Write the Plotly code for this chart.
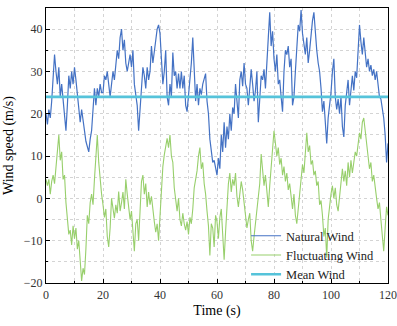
import numpy as np
import plotly.graph_objects as go

# time axis: 0 .. 120 s, sampled every 0.5 s
time_s = np.arange(0, 120.25, 0.5)

natural_wind = [
    20, 17.5, 21, 19, 23, 29, 34, 30, 27, 31,
    24, 27, 23, 21, 16, 22, 29, 26, 30, 27,
    31, 28, 25, 22, 18, 21, 19, 16, 13.5, 12.5,
    11, 14, 16, 21, 26, 22, 26, 24, 27, 25,
    25, 29, 28, 30, 26, 24, 27, 30, 28, 32,
    35, 33, 38, 40, 35, 37.5, 32, 30, 32, 34,
    31, 35, 27, 24, 22, 16, 21, 24, 31, 29,
    26, 31, 28, 30, 36, 32, 35, 37.5, 40, 41,
    39, 33, 27, 30, 35, 24, 22, 27, 24, 34.5,
    29, 30, 26, 29.5, 26, 30, 26, 29, 22, 20.5,
    24.4, 27.6, 32, 38, 30, 23, 27, 22, 26, 24.5,
    27, 28, 29.5, 23, 20, 14, 11, 8.5, 9, 7,
    5.5, 9.5, 7, 15, 11, 18, 12, 17, 14, 20,
    16, 21.5, 20, 27, 23, 19, 28, 30, 26.5, 32,
    27, 26, 22, 26, 30.5, 27, 23, 25.5, 30, 18,
    25, 29, 28, 30.5, 26, 34, 38, 44, 36, 39.5,
    33, 30, 34, 27, 28, 24, 20.5, 30, 35, 34,
    36, 31, 33, 22, 24, 30, 37, 41, 39.5, 44.5,
    39, 37, 34, 38, 32, 35, 39.5, 42, 44, 39,
    35, 32, 30, 26, 20.5, 23, 17, 13, 19, 22,
    25, 30, 33, 24, 21, 23.5, 20, 24, 17, 14.5,
    22, 25, 28, 22, 26, 29, 25.5, 30, 28.5, 35,
    41, 37, 34, 38, 35, 31, 33, 30, 31.5, 29,
    30.5, 28, 30, 26, 24, 23.5, 21, 19, 15, 8.5,
    13,
]

fluctuating_wind = [
    4.5, 3, 4.5, 1, 4, 5.5, 3.5, 7, 11.5, 15,
    9, 11, 4.5, 5.5, -1, -5.5, -8.5, -7.5, -11, -6.5,
    -9.5, -7, -12, -10, -15, -19.5, -16.5, -18, -12, -4,
    -6, -1, 1, -1.5, 4.5, 9.5, 15, 8.5, 4, 1,
    -1.5, -4.5, -2.5, -9, -11.5, -7, 0, -2, -4.7, -1.5,
    -3.5, 1.6, -3, -1, 1.5, -2.5, 4.5, 1, -1.5, -5,
    -3, -8, -12.5, -6, -5, -10, -3, 4, 5.5, 1,
    3.5, -2, 1.5, -1.5, 0.5, -3, -5.5, -8, -6, -10,
    -4, 4, 7.5, 10.3, 12.5, 14.2, 12, 15, 10, 8.5,
    2.5, -0.8, -3, 0, -5, -6.5, -3.5, -6, -7.5, -5.5,
    -8.5, -4.5, -6, -2.5, 2.5, 4.5, 6.5, 10, 12, 7,
    8.5, 3.5, 1, -3, -6.5, -13.5, -6, -7, -11.5, -4,
    -5.5, -9.5, -4.5, -2.5, -9.5, -14.5, -8, -1, 3.5, 6,
    1.5, 4.5, 3, 6, 0.5, -2, 1, 4, 2, -1.5,
    -4.5, -7, -5, -3.5, -10, -12.5, -9, -6, -3, 1.5,
    3.5, 10.5, 7, 3, 5.5, 1, -2, 3, 8, 12.5,
    16, 13, 10, 12, 8, 9.5, 5.5, 7.5, 4, 6,
    2, 3.5, 0, -2.5, 1, -4, -6, -2, 1.5, 4,
    8, 6, 12, 15.5, 11, 12.5, 8, 9, 5.5, 6.5,
    3, 4, -1.5, -0.5, -4, -9, -7, -14, -5, -1,
    1, 3, 0, 2.5, -1.5, -3, 1, 5, 7, 4,
    6.5, 3, 8.5, 5, 9, 6, 8, 11, 10, 13,
    15.5, 14, 18, 19, 16, 13.5, 10, 7, 8.5, 4,
    5.5, 2, 0, -2.5, -1, -5, -9, -12.5, -7, -2,
    -4,
]

mean_wind_value = 24
mean_time = [0, 120]
mean_wind = [mean_wind_value, mean_wind_value]

x_ticks = [0, 20, 40, 60, 80, 100, 120]
y_ticks = [-20, -10, 0, 10, 20, 30, 40]

FONT = "Liberation Serif, Times New Roman, serif"

fig = go.Figure()
fig.add_trace(go.Scatter(x=time_s, y=natural_wind, mode="lines", name="Natural Wind",
                         line=dict(color="#4472C4", width=1.2)))
fig.add_trace(go.Scatter(x=time_s, y=fluctuating_wind, mode="lines", name="Fluctuating Wind",
                         line=dict(color="#98CF6C", width=1.1)))
fig.add_trace(go.Scatter(x=mean_time, y=mean_wind, mode="lines", name="Mean Wind",
                         line=dict(color="#55C3DA", width=2.6)))

axis_common = dict(
    showline=True, linecolor="black", linewidth=1.2, mirror=True,
    ticks="inside", ticklen=4, tickcolor="black", tickwidth=1,
    showgrid=True, gridcolor="#d4d4d4", griddash="dot", gridwidth=1,
    zeroline=False, automargin=False,
    tickfont=dict(family=FONT, size=12, color="#333333"),
)

fig.update_xaxes(
    range=[0, 120], tickvals=x_ticks,
    title=dict(text="Time (s)", font=dict(family=FONT, size=14, color="black"), standoff=4),
    minor=dict(dtick=10, tick0=0, ticks="inside", ticklen=2, showgrid=True, gridcolor="#d4d4d4", griddash="dot"),
    **axis_common,
)
fig.update_yaxes(
    range=[-20, 45], tickvals=y_ticks,
    title=dict(text="Wind speed (m/s)", font=dict(family=FONT, size=14, color="black"), standoff=6),
    minor=dict(dtick=5, tick0=0, ticks="inside", ticklen=2, showgrid=True, gridcolor="#d4d4d4", griddash="dot"),
    **axis_common,
)

fig.update_layout(
    width=397, height=326,
    margin=dict(l=46, r=9, t=8, b=43),
    paper_bgcolor="white", plot_bgcolor="white",
    font=dict(family=FONT, size=13, color="black"),
    legend=dict(x=0.585, y=0.225, xanchor="left", yanchor="top",
                bgcolor="rgba(0,0,0,0)", borderwidth=0, itemwidth=30,
                tracegroupgap=0, font=dict(family=FONT, size=12.5, color="#222222")),
    showlegend=True,
)

fig.write_html("out.html", config={"displayModeBar": False},
               post_script="document.body.style.margin='0';")
